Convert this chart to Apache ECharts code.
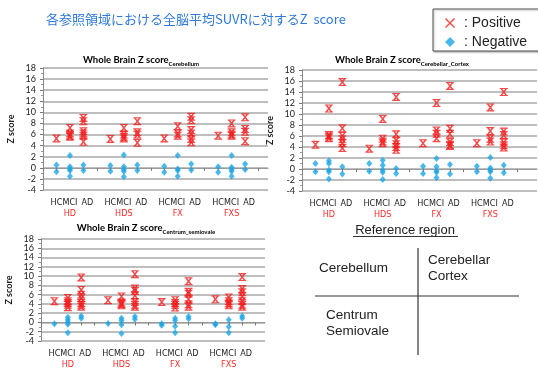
<!DOCTYPE html>
<html><head><meta charset="utf-8">
<script src="https://cdn.jsdelivr.net/npm/echarts@6/dist/echarts.min.js"></script>
<style>html,body{margin:0;padding:0;background:#fff;}#c{width:538px;height:370px;}</style>
</head><body><div id="c"></div>
<script>
// ---- categories / labels ----
const catLabels = ['HC', 'MCI', 'AD'];
const groupNames = ['HD', 'HDS', 'FX', 'FXS'];
const panelSubtitles = ['Cerebellum', 'Cerebellar_Cortex', 'Centrum_semiovale'];
const regionNames = ['Cerebellum', 'Cerebellar\nCortex', 'Centrum\nSemiovale'];

// ---- data: order HD-HC, HD-MCI, HD-AD, HDS-HC, ... FXS-AD ----
const cerebellumPositive = [
  [5.3], [7.2, 6.2, 5.8, 5.6], [9.0, 8.4, 6.6, 6.2, 5.8, 4.7],
  [5.2], [7.2, 6.0, 5.6, 5.3], [8.4, 6.4, 6.0, 4.5],
  [5.3], [7.5, 6.2, 5.8], [9.2, 8.6, 6.8, 6.2, 5.2, 4.6],
  [5.8], [8.0, 6.4, 6.0, 5.8], [9.1, 7.0, 6.5, 4.8]
];
const cerebellumNegative = [
  [0.5, -0.7], [2.2, 0.2, -0.2, -0.5, -1.5], [0.5, -0.5],
  [0.4, -0.6], [2.3, 0.2, -0.3, -0.6, -1.6], [0.5, -0.5],
  [0.3, -0.8], [2.2, -0.2, -0.5, -1.5], [0.7, -0.4],
  [0.2, -0.8], [2.2, 0.1, -0.3, -0.6, -1.5], [0.7, -0.3]
];
const cortexPositive = [
  [4.4], [11.0, 6.2, 5.9, 5.6], [15.8, 7.4, 6.0, 5.4, 4.7, 3.8],
  [3.7], [9.1, 5.5, 5.0, 4.7], [13.1, 6.3, 5.2, 4.5, 4.0, 3.5],
  [4.7], [12.0, 7.0, 6.4, 5.6], [15.1, 7.3, 6.4, 4.9, 4.4, 4.2],
  [4.7], [11.2, 6.9, 5.5, 5.0], [14.0, 6.8, 6.2, 4.8, 4.3, 3.9]
];
const cortexNegative = [
  [1.0, -0.5], [1.5, 1.0, -0.2, -0.5, -1.8], [0.4, -0.9],
  [1.0, -0.4], [1.6, 0.7, -0.2, -0.6, -1.9], [0.1, -0.8],
  [0.5, -0.8], [1.9, 0.4, -0.3, -0.6, -1.6], [0.8, -0.9],
  [0.5, -0.5], [2.1, 0.2, -0.2, -0.5, -1.7], [0.7, -0.7]
];
const centrumPositive = [
  [4.6], [5.3, 4.6, 4.2, 3.8, 3.3], [9.7, 7.0, 6.0, 5.2, 4.2, 3.8, 3.4],
  [4.8], [5.6, 4.3, 4.0, 3.7], [10.4, 7.3, 6.8, 5.8, 4.4, 3.8, 3.4],
  [4.4], [4.8, 4.2, 3.8, 3.2], [8.9, 6.6, 6.2, 5.0, 3.9, 3.4],
  [5.0], [5.4, 4.6, 4.1, 3.7], [9.8, 7.2, 6.5, 5.6, 4.6, 3.8, 3.4]
];
const centrumNegative = [
  [-0.3], [1.1, 0.6, 0.1, -0.4, -2.2], [1.4, 0.9],
  [-0.2], [0.9, 0.4, -0.5, -2.4], [1.3, 0.7],
  [-0.3, -0.6], [0.9, 0.4, -0.8, -2.2], [1.3, 0.8],
  [-0.3, -0.5], [0.6, -0.9, -2.2], [1.4, 0.9]
];

// ---- helpers ----
function toPoints(list) {
  const pts = [];
  list.forEach((vals, i) => {
    const x = Math.floor(i / 3) * 4 + (i % 3) + 1;
    vals.forEach(v => pts.push([x, v]));
  });
  return pts;
}
const tickValues = [];
for (let i = 0; i <= 16; i++) tickValues.push(i);
function xFmt(v) {
  const p = (v - 1) % 4, g = Math.floor((v - 1) / 4);
  if (v < 1 || p > 2) return ' ';
  if (p === 0) return catLabels[p] + '\n ';
  if (p === 2) return '{ad|' + catLabels[p] + '}\n ';
  return catLabels[p] + '\n{g|' + groupNames[g] + '}';
}

const RED = '#f41c1c', BLUE = '#1da6e6';
const posSymbol = 'path://M1,0 L9,0 L9,1.4 L1,1.4 Z M1,8.6 L9,8.6 L9,10 L1,10 Z M1,0 L2.9,0 L9,10 L7.1,10 Z M7.1,0 L9,0 L2.9,10 L1,10 Z';
const legendX = 'path://M0,1 L1,0 L10,9 L9,10 Z M9,0 L10,1 L1,10 L0,9 Z';

const grids = [
  { left: 43, top: 68, width: 225, height: 122, xmax: 16.7 },
  { left: 302, top: 70, width: 235, height: 121, xmax: 17.47 },
  { left: 41, top: 239, width: 224, height: 107, xmax: 16.7 }
];
const panels = [
  [cerebellumPositive, cerebellumNegative],
  [cortexPositive, cortexNegative],
  [centrumPositive, centrumNegative]
];
const FONT = 'Lato';
const XFONT = '"Liberation Sans Narrow", "DejaVu Sans Condensed", Lato';

const xAxes = grids.map((g, i) => ({
  type: 'value', gridIndex: i, min: 0, max: g.xmax,
  axisLine: { show: true, lineStyle: { color: '#9a9a9a', width: 1 } },
  axisTick: { show: true, customValues: tickValues, length: 3, inside: false, lineStyle: { color: '#777' } },
  axisLabel: {
    customValues: tickValues, formatter: xFmt, margin: 7,
    hideOverlap: false,
    fontFamily: XFONT, fontSize: 9, color: '#222', lineHeight: 11,
    rich: {
      g: { color: '#ff2a2a', fontFamily: XFONT, fontSize: 9, lineHeight: 11 },
      ad: { color: '#222', fontFamily: XFONT, fontSize: 9, lineHeight: 11, padding: [0, 0, 0, 8] }
    }
  },
  splitLine: { show: false }
}));
const yAxes = grids.map((g, i) => ({
  type: 'value', gridIndex: i, min: -4, max: 18, interval: 2,
  name: 'Z score', nameLocation: 'middle', nameRotate: 90, nameGap: 27,
  nameTextStyle: { fontFamily: FONT, fontSize: 9, fontWeight: 'bold', color: '#222' },
  axisLine: { show: true, lineStyle: { color: '#8a8a8a', width: 1 } },
  axisTick: { show: true, length: 3, lineStyle: { color: '#777' } },
  minorTick: { show: true, splitNumber: 2, length: 2, lineStyle: { color: '#999' } },
  axisLabel: { fontFamily: FONT, fontSize: 9, color: '#222', margin: 7 },
  splitLine: { show: true, lineStyle: { color: '#a8a8a8', width: 1.6 } }
}));

const series = [];
panels.forEach((p, i) => {
  series.push({
    name: 'Positive', type: 'scatter', xAxisIndex: i, yAxisIndex: i,
    symbol: posSymbol, symbolSize: [8, 8], data: toPoints(p[0]),
    itemStyle: { color: RED }, emphasis: { disabled: true }, z: 3
  });
  series.push({
    name: 'Negative', type: 'scatter', xAxisIndex: i, yAxisIndex: i,
    symbol: 'diamond', symbolSize: [6, 7], data: toPoints(p[1]),
    itemStyle: { color: BLUE }, emphasis: { disabled: true }, z: 3
  });
});

const titleStyle = (sub, x, y) => ({
  type: 'text', x: x, y: y,
  style: {
    text: '{a|Whole Brain Z score}{b|' + sub + '}',
    align: 'center', verticalAlign: 'middle',
    rich: {
      a: { fontFamily: FONT, fontSize: 9.5, fontWeight: 'bold', color: '#222', lineHeight: 14, verticalAlign: 'middle' },
      b: { fontFamily: FONT, fontSize: 6, fontWeight: 'bold', color: '#222', lineHeight: 6, verticalAlign: 'bottom' }
    }
  }
});

const tf = 'Liberation Sans';
const option = {
  animation: false,
  grid: grids.map(g => ({ left: g.left, top: g.top, width: g.width, height: g.height })),
  xAxis: xAxes,
  yAxis: yAxes,
  series: series,
  legend: {
    show: true, orient: 'vertical', left: 440, top: 11,
    data: [{ name: 'Positive', icon: legendX }, { name: 'Negative', icon: 'diamond' }],
    itemWidth: 10, itemHeight: 10, itemGap: 5,
    formatter: ': {name}',
    textStyle: { fontFamily: tf, fontSize: 14, color: '#222', lineHeight: 14, padding: [0, 0, 0, 4] },
    selectedMode: false
  },
  graphic: [
    { type: 'rect', shape: { x: 433, y: 9, width: 120, height: 42 },
      style: { fill: '#fff', stroke: '#555', lineWidth: 1, shadowBlur: 2, shadowOffsetX: 1, shadowOffsetY: 1, shadowColor: 'rgba(0,0,0,0.3)' }, z: -1 },
    { type: 'text', x: 46, y: 19, style: { text: '各参照領域における全脳平均SUVRに対するZ  score', font: '13px "Noto Sans CJK JP"', fill: '#2f7ad8', verticalAlign: 'middle' } },
    titleStyle(panelSubtitles[0], 141, 60),
    titleStyle(panelSubtitles[1], 402, 60),
    titleStyle(panelSubtitles[2], 146, 228),
    { type: 'text', x: 405, y: 230, style: { text: 'Reference region', font: '13px "Liberation Sans"', fill: '#222', align: 'center', verticalAlign: 'middle' } },
    { type: 'line', shape: { x1: 353, y1: 236.5, x2: 458, y2: 236.5 }, style: { stroke: '#333', lineWidth: 1 } },
    { type: 'line', shape: { x1: 418, y1: 248, x2: 418, y2: 355 }, style: { stroke: '#333', lineWidth: 1.2 } },
    { type: 'line', shape: { x1: 315, y1: 296, x2: 519, y2: 296 }, style: { stroke: '#333', lineWidth: 1.2 } },
    { type: 'text', x: 319, y: 268, style: { text: regionNames[0], font: '13.5px "Liberation Sans"', fill: '#222', verticalAlign: 'middle' } },
    { type: 'text', x: 428, y: 268, style: { text: regionNames[1], font: '13.5px "Liberation Sans"', fill: '#222', verticalAlign: 'middle', lineHeight: 16 } },
    { type: 'text', x: 326, y: 323, style: { text: regionNames[2], font: '13.5px "Liberation Sans"', fill: '#222', verticalAlign: 'middle', lineHeight: 16 } }
  ]
};
const chart = echarts.init(document.getElementById('c'), null, { renderer: 'canvas' });
chart.setOption(option);
</script></body></html>
